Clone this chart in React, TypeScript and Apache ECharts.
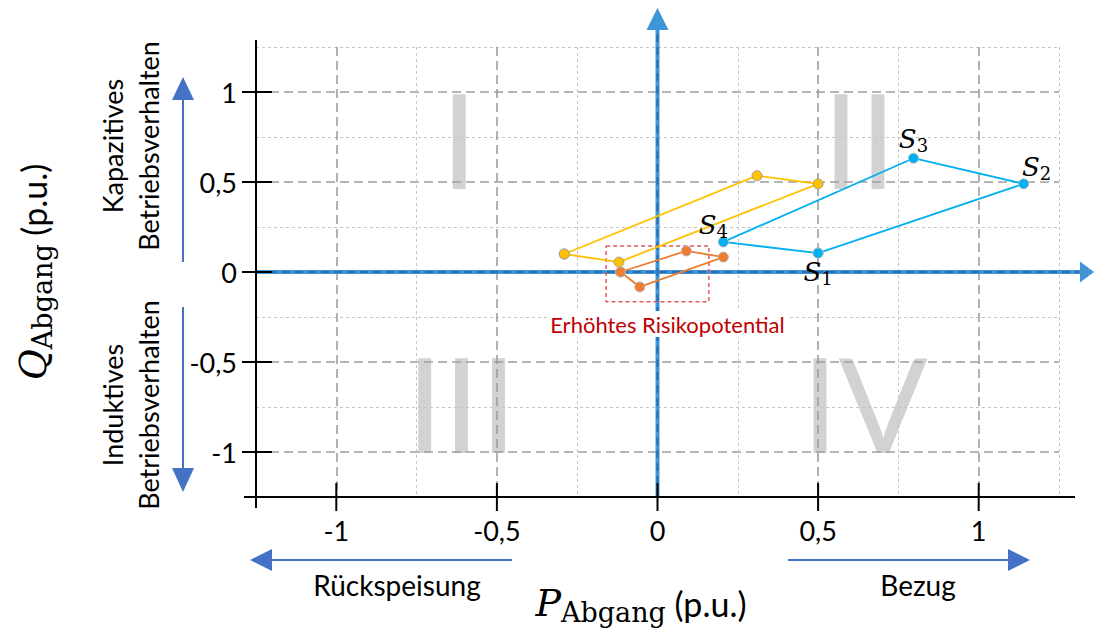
import React, { useEffect, useRef } from "react";
import * as echarts from "echarts";

// ---- axis ----
const AXIS_MIN = -1.25;
const AXIS_MAX = 1.25;
const GRID_STEP = 0.25;
const majorTicks = [-1, -0.5, 0, 0.5, 1];

// ---- data (P, Q in p.u.) ----
const yellowPath = [
  [-0.29, 0.1],
  [-0.12, 0.055],
  [0.5, 0.49],
  [0.31, 0.535],
  [-0.29, 0.1],
];
const bluePath = [
  [0.5, 0.105],
  [1.14, 0.49],
  [0.797, 0.632],
  [0.205, 0.167],
  [0.5, 0.105],
];
const blueNames = ["1", "2", "3", "4"];
const orangePath = [
  [-0.115, 0.0],
  [0.09, 0.117],
  [0.205, 0.083],
  [-0.055, -0.083],
  [-0.115, 0.0],
];
const riskBox = [
  [-0.16, 0.145],
  [0.16, 0.145],
  [0.16, -0.165],
  [-0.16, -0.165],
  [-0.16, 0.145],
];
const riskLabel = "Erhöhtes Risikopotential";
const riskLabelAnchor = [0.031, -0.289];
const quadrantNames = ["I", "II", "III", "IV"];
const quadrantAnchors = [
  [-0.617, 0.745],
  [0.629, 0.745],
  [-0.61, -0.722],
  [0.645, -0.722],
];

const MINOR = "#C4C4C4";
const MAJOR = "#9E9E9E";
const BLUE_AX = "#3E95D8";
const ARROW = "#4472C4";

const fmt = (v: number) =>
  majorTicks.some((t) => Math.abs(t - v) < 1e-9) ? String(v).replace(".", ",") : "";

const labelPlacement: any[] = [
  { position: "bottom", distance: 0, offset: [0, -2] },
  { position: "top", distance: 0, offset: [13, 4] },
  { position: "top", distance: 0, offset: [0, 2] },
  { position: "top", distance: 0, offset: [-10, 4] },
];

const sRich = {
  s: { fontFamily: "DejaVu Serif", fontStyle: "italic", fontSize: 26, color: "#000" },
  n: {
    fontFamily: "DejaVu Serif",
    fontSize: 18,
    color: "#000",
    verticalAlign: "bottom",
    padding: [13, 0, 0, 0],
  },
};

function makeAxis(kind: "minor" | "major", dim: "x" | "y") {
  const isMinor = kind === "minor";
  return {
    type: "value",
    min: AXIS_MIN,
    max: AXIS_MAX,
    interval: GRID_STEP,
    position: dim === "x" ? (isMinor ? "bottom" : "top") : isMinor ? "left" : "right",
    z: 1,
    axisLine: { show: false },
    axisTick: { show: false },
    axisLabel: isMinor
      ? {
          show: true,
          formatter: fmt,
          fontFamily: "Lato",
          fontSize: 27,
          color: "#000",
          margin: dim === "x" ? 20 : 19,
        }
      : { show: false },
    splitLine: {
      show: true,
      lineStyle: isMinor
        ? { color: [MINOR, "transparent"], width: 1, type: [3, 3] }
        : { color: ["transparent", MAJOR], width: 1.6, type: [9, 5] },
    },
  };
}

export default function App() {
  const ref = useRef<HTMLDivElement>(null);

  useEffect(() => {
    document.body.style.margin = "0";
    if (!ref.current) return;
    const chart = echarts.init(ref.current, undefined, { renderer: "svg" });

    const option: any = {
      animation: false,
      textStyle: { fontFamily: "Lato" },
      grid: { left: 256, right: 35, top: 47, bottom: 133, containLabel: false, outerBoundsMode: "none" },
      xAxis: [makeAxis("minor", "x"), makeAxis("major", "x")],
      yAxis: [makeAxis("minor", "y"), makeAxis("major", "y")],
      series: [
        {
          type: "line",
          data: riskBox,
          symbol: "none",
          z: 4,
          lineStyle: { color: "#E05A5C", width: 1.5, type: [4, 3] },
        },
        {
          type: "line",
          data: yellowPath,
          symbol: "circle",
          symbolSize: 10,
          z: 5,
          lineStyle: { color: "#FFC000", width: 1.8 },
          itemStyle: { color: "#FFC000", borderColor: "#A0A0A0", borderWidth: 1 },
        },
        {
          type: "line",
          data: orangePath,
          symbol: "circle",
          symbolSize: 10,
          z: 5,
          lineStyle: { color: "#ED7D31", width: 1.8 },
          itemStyle: { color: "#ED7D31", borderColor: "#B8B8B8", borderWidth: 1 },
        },
        {
          type: "line",
          data: bluePath.map((p, i) => ({
            value: p,
            label:
              i < blueNames.length
                ? {
                    show: true,
                    formatter: `{s|S}{n|${blueNames[i]}}`,
                    rich: sRich,
                    ...labelPlacement[i],
                  }
                : { show: false },
          })),
          symbol: "circle",
          symbolSize: 10,
          z: 5,
          lineStyle: { color: "#00B0F0", width: 1.8 },
          itemStyle: { color: "#00B0F0", borderColor: "#B8B8B8", borderWidth: 1 },
        },
      ],
    };
    chart.setOption(option);

    const px = (x: number, y: number) => chart.convertToPixel({ gridIndex: 0 }, [x, y]) as number[];
    const [gx0, gy1] = px(AXIS_MIN, AXIS_MIN);
    const [gx1, gy0] = px(AXIS_MAX, AXIS_MAX);
    const [ox, oy] = px(0, 0);

    const g: any[] = [];
    // quadrant numerals
    quadrantNames.forEach((name, i) => {
      const [qx, qy] = px(quadrantAnchors[i][0], quadrantAnchors[i][1]);
      g.push({
        type: "text",
        x: qx,
        y: qy,
        z: 0,
        style: {
          text: name,
          fontFamily: "Lato",
          fontSize: 132,
          fill: "#D2D2D2",
          align: "center",
          verticalAlign: "middle",
        },
      });
    });
    // blue axes
    g.push(
      { type: "line", z: 2, shape: { x1: gx0, y1: oy, x2: gx1 + 22, y2: oy }, style: { stroke: BLUE_AX, lineWidth: 4 } },
      { type: "line", z: 2, shape: { x1: gx0, y1: oy, x2: gx1 + 20, y2: oy }, style: { stroke: "#2A6DB0", lineWidth: 2, lineDash: [8, 5] } },
      { type: "polygon", z: 2, shape: { points: [[gx1 + 21, oy - 10.5], [gx1 + 35, oy], [gx1 + 21, oy + 10.5]] }, style: { fill: BLUE_AX } },
      { type: "line", z: 2, shape: { x1: ox, y1: gy1, x2: ox, y2: gy0 - 18 }, style: { stroke: BLUE_AX, lineWidth: 4 } },
      { type: "line", z: 2, shape: { x1: ox, y1: gy1, x2: ox, y2: gy0 - 16 }, style: { stroke: "#2A6DB0", lineWidth: 2, lineDash: [8, 5] } },
      { type: "polygon", z: 2, shape: { points: [[ox - 11, gy0 - 17], [ox, gy0 - 39], [ox + 11, gy0 - 17]] }, style: { fill: BLUE_AX } }
    );
    // black axes and ticks
    g.push(
      { type: "line", z: 3, shape: { x1: gx0, y1: gy0 - 7, x2: gx0, y2: gy1 + 11 }, style: { stroke: "#000", lineWidth: 2 } },
      { type: "line", z: 3, shape: { x1: gx0 - 12, y1: gy1, x2: gx1 + 16, y2: gy1 }, style: { stroke: "#000", lineWidth: 2 } }
    );
    majorTicks.forEach((t) => {
      const [tx] = px(t, 0);
      const [, ty] = px(0, t);
      g.push(
        { type: "line", z: 3, shape: { x1: tx, y1: gy1 - 14, x2: tx, y2: gy1 + 14 }, style: { stroke: "#000", lineWidth: 2 } },
        { type: "line", z: 3, shape: { x1: gx0 - 14, y1: ty, x2: gx0 + 16, y2: ty }, style: { stroke: "#000", lineWidth: 2 } }
      );
    });
    // risk label
    const [rx, ry] = px(riskLabelAnchor[0], riskLabelAnchor[1]);
    g.push({
      type: "text",
      x: rx,
      y: ry,
      z: 6,
      style: {
        text: riskLabel,
        fontFamily: "Lato",
        fontSize: 22,
        fill: "#C00000",
        align: "center",
        verticalAlign: "middle",
        backgroundColor: "#fff",
        padding: [2, 3],
      },
    });
    // side arrows
    const arrowLine = (x1: number, y1: number, x2: number, y2: number) => ({
      type: "line",
      z: 3,
      shape: { x1, y1, x2, y2 },
      style: { stroke: ARROW, lineWidth: 2 },
    });
    const arrowHead = (pts: number[][]) => ({ type: "polygon", z: 3, shape: { points: pts }, style: { fill: ARROW } });
    g.push(
      arrowLine(183, 262, 183, 98),
      arrowHead([[172, 100], [183, 77], [194, 100]]),
      arrowLine(183, 307, 183, 470),
      arrowHead([[172, 468], [183, 492], [194, 468]]),
      arrowLine(512, 560, 270, 560),
      arrowHead([[272, 549], [250, 560], [272, 571]]),
      arrowLine(788, 560, 1010, 560),
      arrowHead([[1008, 549], [1030, 560], [1008, 571]])
    );
    const plainText = (text: string, x: number, y: number, size: number, rotate = 0, lineHeight?: number) => ({
      type: "text",
      x,
      y,
      rotation: rotate,
      z: 3,
      style: {
        text,
        fontFamily: "Lato",
        fontSize: size,
        lineHeight: lineHeight,
        fill: "#000",
        align: "center",
        verticalAlign: "middle",
      },
    });
    g.push(
      plainText("Kapazitives\nBetriebsverhalten", 130, 146, 27, Math.PI / 2, 36),
      plainText("Induktives\nBetriebsverhalten", 130, 405, 27, Math.PI / 2, 36),
      plainText("Rückspeisung", 397, 585, 28),
      plainText("Bezug", 918, 585, 28)
    );
    const titleRich = {
      v: { fontFamily: "DejaVu Serif", fontStyle: "italic", fontSize: 38, color: "#000" },
      s: { fontFamily: "DejaVu Serif", fontSize: 27, color: "#000", verticalAlign: "bottom", padding: [18, 0, 0, 0] },
      u: { fontFamily: "Lato", fontSize: 34, color: "#000" },
    };
    g.push(
      {
        type: "text",
        x: 641,
        y: 603,
        z: 3,
        style: { text: "{v|P}{s|Abgang}{u| (p.u.)}", rich: titleRich, align: "center", verticalAlign: "middle" },
      },
      {
        type: "text",
        x: 33,
        y: 272,
        z: 3,
        rotation: Math.PI / 2,
        style: { text: "{v|Q}{s|Abgang}{u| (p.u.)}", rich: titleRich, align: "center", verticalAlign: "middle" },
      }
    );

    chart.setOption({ graphic: { elements: g } });

    return () => chart.dispose();
  }, []);

  return <div ref={ref} style={{ width: 1094, height: 630 }} />;
}
